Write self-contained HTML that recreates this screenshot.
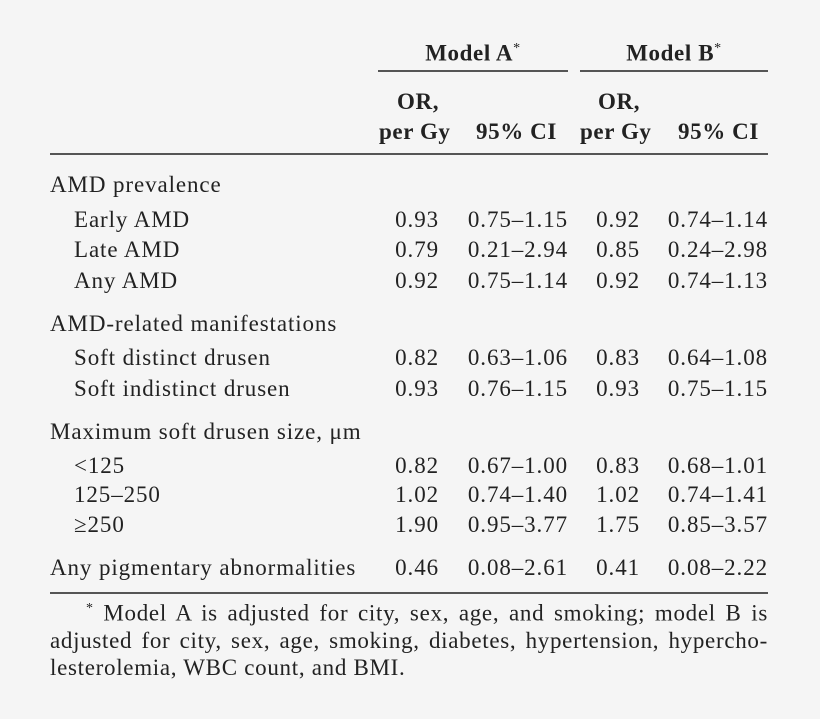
<!DOCTYPE html>
<html><head><meta charset="utf-8"><style>
body{margin:0;background:#f5f5f5;}
#c{position:relative;width:820px;height:719px;background:#f5f5f5;font-family:"Liberation Serif",serif;font-size:23px;letter-spacing:0.9px;color:#222;}
.t{position:absolute;line-height:22px;white-space:nowrap;}
.r{text-align:right;}
.b{font-weight:bold;letter-spacing:0.6px;}
.l{position:absolute;height:1.5px;background:#555;}
.f{position:absolute;left:50px;top:595px;width:718px;line-height:27px;white-space:nowrap;letter-spacing:0.7px;}
.f div{text-align:justify;text-align-last:justify;}
</style></head><body><div id="c">
<div class="t b" style="left:378px;width:190px;text-align:center;top:38px">Model A<sup style="font-size:14px;font-weight:normal">*</sup></div>
<div class="t b" style="left:580px;width:188px;text-align:center;top:38px">Model B<sup style="font-size:14px;font-weight:normal">*</sup></div>
<div class="l" style="left:378px;width:190px;top:70px"></div>
<div class="l" style="left:580px;width:188px;top:70px"></div>
<div class="t b" style="left:397px;top:91px">OR,</div>
<div class="t b" style="left:379px;top:121px">per Gy</div>
<div class="t b" style="left:476px;top:121px">95% CI</div>
<div class="t b" style="left:598px;top:91px">OR,</div>
<div class="t b" style="left:580px;top:121px">per Gy</div>
<div class="t b" style="left:678px;top:121px">95% CI</div>
<div class="l" style="left:50px;width:718px;top:153px"></div>
<div class="l" style="left:50px;width:718px;top:592px"></div>
<div id="rows"></div>
<div class="f"><div style="padding-left:36px"><sup style="font-size:14px">*</sup> Model A is adjusted for city, sex, age, and smoking; model B is</div><div>adjusted for city, sex, age, smoking, diabetes, hypertension, hypercho-</div><div style="text-align-last:left">lesterolemia, WBC count, and BMI.</div></div>
</div>
<script>
var d=[[185,50,"AMD prevalence"],[220,74,"Early AMD","0.93","0.75–1.15","0.92","0.74–1.14"],[250,74,"Late AMD","0.79","0.21–2.94","0.85","0.24–2.98"],[281,74,"Any AMD","0.92","0.75–1.14","0.92","0.74–1.13"],[324,50,"AMD-related manifestations"],[358,74,"Soft distinct drusen","0.82","0.63–1.06","0.83","0.64–1.08"],[389,74,"Soft indistinct drusen","0.93","0.76–1.15","0.93","0.75–1.15"],[432,50,"Maximum soft drusen size, μm"],[466,74,"<125","0.82","0.67–1.00","0.83","0.68–1.01"],[495,74,"125–250","1.02","0.74–1.40","1.02","0.74–1.41"],[525,74,"≥250","1.90","0.95–3.77","1.75","0.85–3.57"],[568,50,"Any pigmentary abnormalities","0.46","0.08–2.61","0.41","0.08–2.22"]];
var rs=[439,568,640,768],h="";
d.forEach(function(r){var t=r[0]-11;h+='<div class="t" style="left:'+r[1]+'px;top:'+t+'px">'+r[2].replace("<","&lt;")+'</div>';
for(var i=3;i<r.length;i++)h+='<div class="t r" style="left:'+(rs[i-3]-150)+'px;width:150px;top:'+t+'px;margin-right:-1px">'+r[i]+'</div>';});
document.getElementById("rows").innerHTML=h;
</script>
</body></html>
